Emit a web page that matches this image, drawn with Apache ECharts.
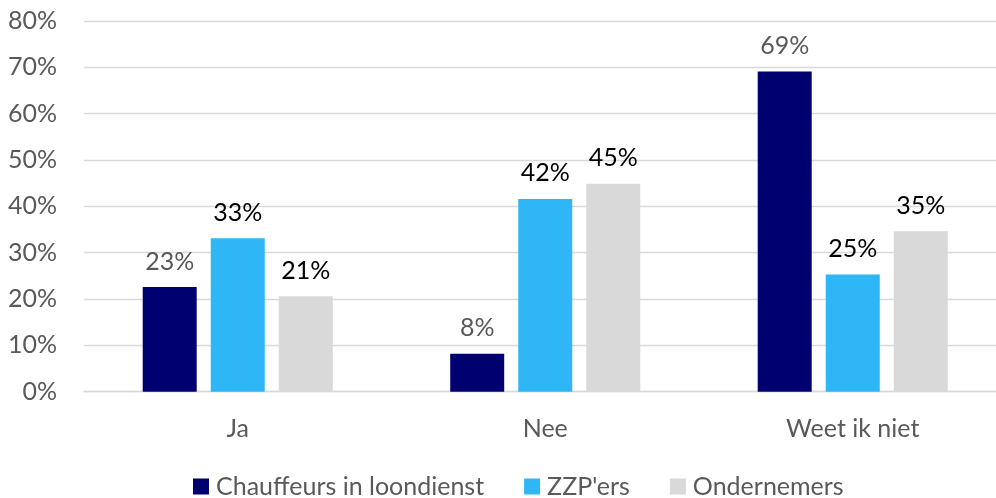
<!DOCTYPE html>
<html>
<head>
<meta charset="utf-8">
<script src="https://cdn.jsdelivr.net/npm/echarts@6/dist/echarts.min.js"></script>
<style>
html,body{margin:0;padding:0;background:#fff;}
#chart{width:996px;height:498px;}
</style>
</head>
<body>
<div id="chart"></div>
<script>
const categories = ['Ja', 'Nee', 'Weet ik niet'];
const seriesNames = ['Chauffeurs in loondienst', "ZZP'ers", 'Ondernemers'];
const chauffeurs = [22.6, 8.2, 69.1];
const zzpers = [33.1, 41.6, 25.3];
const ondernemers = [20.6, 44.9, 34.6];
const yTicks = [0, 10, 20, 30, 40, 50, 60, 70, 80];

const FONT = 'Lato';
const colors = ['#000071', '#2EB6F7', '#D9D9D9'];
const labelColors = ['#595959', '#000000', '#000000'];
const values = [chauffeurs, zzpers, ondernemers];

const chart = echarts.init(document.getElementById('chart'), null, {renderer: 'canvas'});
chart.setOption({
  animation: false,
  textStyle: {fontFamily: FONT},
  grid: {left: 84, top: 21, width: 922.5, height: 370.7, outerBoundsMode: 'none', containLabel: false},
  legend: {
    data: seriesNames,
    left: 188,
    top: 469,
    icon: 'rect',
    itemWidth: 16,
    itemHeight: 16,
    itemGap: 40,
    textStyle: {fontFamily: FONT, fontSize: 25, color: '#595959', padding: [0, 0, 0, 2]}
  },
  xAxis: {
    type: 'category',
    data: categories,
    axisTick: {show: false},
    axisLine: {lineStyle: {color: '#D9D9D9', width: 1.3}},
    axisLabel: {fontFamily: FONT, fontSize: 25, color: '#595959', margin: 25}
  },
  yAxis: {
    type: 'value',
    min: yTicks[0],
    max: yTicks[yTicks.length - 1],
    interval: 10,
    axisLine: {show: false},
    axisTick: {show: false},
    splitLine: {lineStyle: {color: '#D9D9D9', width: 1.3}},
    axisLabel: {fontFamily: FONT, fontSize: 25, color: '#595959', margin: 27, formatter: '{value}%'}
  },
  series: seriesNames.map((name, i) => ({
    name: name,
    type: 'bar',
    data: values[i],
    barWidth: 54,
    barGap: '26%',
    itemStyle: {color: colors[i]},
    label: {
      show: true,
      position: 'top',
      distance: 13,
      fontFamily: FONT,
      fontSize: 25,
      color: labelColors[i],
      formatter: p => Math.round(p.value) + '%'
    }
  }))
});
</script>
</body>
</html>
